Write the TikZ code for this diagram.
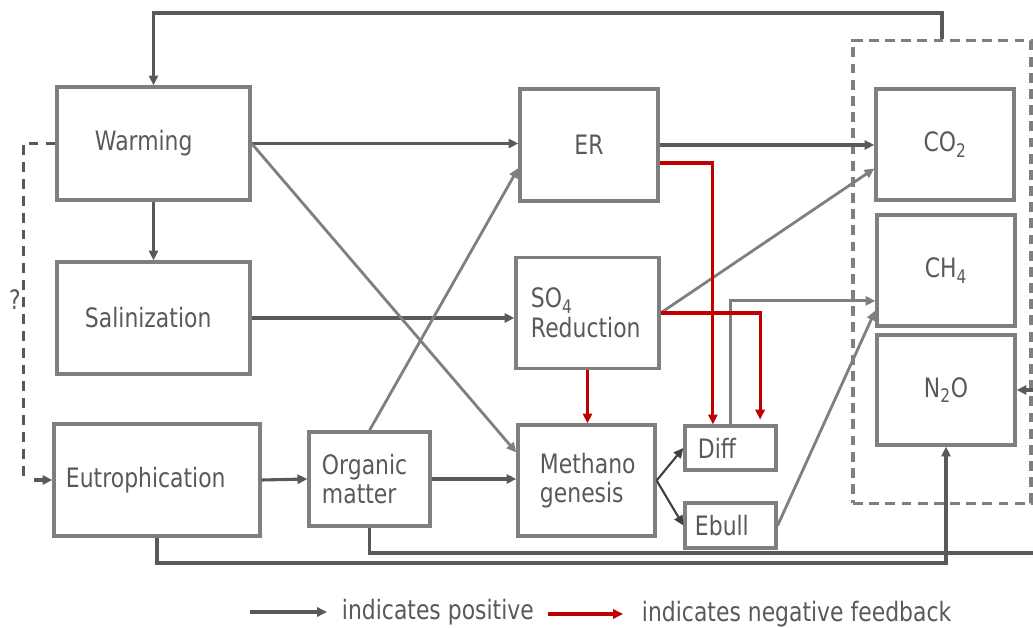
\documentclass[tikz,border=0pt]{standalone}
\usepackage{fontspec}
\setmainfont[FakeStretch=0.82]{DejaVu Sans}
\usepackage{tikz}
\usetikzlibrary{arrows.meta}
\definecolor{boxgray}{HTML}{7F7F7F}
\definecolor{linegray}{HTML}{595959}
\definecolor{txtgray}{HTML}{595959}
\definecolor{fbred}{HTML}{C00000}
\tikzset{>={Triangle[length=7pt,width=6.5pt]}}
\tikzset{
  box/.style={draw=boxgray, line width=2.3pt, align=left, inner ysep=0pt, text=txtgray},
  posarrow/.style={->, draw=linegray, line width=2.2pt},
  litearrow/.style={->, draw=boxgray, line width=2pt},
  negarrow/.style={->, draw=fbred, line width=2.2pt},
  maybeline/.style={draw=linegray, line width=2.2pt, dash pattern=on 7pt off 5pt},
}

\begin{document}
\begin{tikzpicture}[x=0.025cm, y=-0.025cm, font=\fontsize{19}{21}\selectfont]
  \useasboundingbox (0,0) rectangle (1033,628);

  % Drivers
  \node[box, minimum height=2.825cm, text width=2.925cm, inner xsep=0.95cm] (warm) at (153.5,143.5) {Warming};
  \node[box, minimum height=2.8cm, text width=3.425cm, inner xsep=0.7cm] (salin) at (153.5,318) {Salinization};
  \node[box, minimum height=2.8cm, text width=4.55cm, inner xsep=0.3cm] (eutro) at (157,480) {Eutrophication};
  \node[box, minimum height=2.35cm, text width=2.375cm, inner xsep=0.325cm] (organic) at (369.5,479) {Organic\\matter};

  % Processes
  \node[box, minimum width=3.45cm, minimum height=2.8cm] (er) at (589,145) {ER};
  \node[box, minimum height=2.775cm, text width=2.825cm, inner xsep=0.375cm] (so4) at (587.5,313) {SO\textsubscript{4}\\Reduction};
  \node[box, minimum height=2.775cm, text width=2.325cm, inner xsep=0.55cm] (meth) at (586.5,480.5) {Methano\\genesis};
  \node[box, minimum height=1.1cm, text width=1.625cm, inner xsep=0.325cm] (diff) at (730.5,448) {Diff};
  \node[box, minimum height=1.125cm, text width=1.775cm, inner xsep=0.25cm] (ebull) at (730.5,525.5) {Ebull};

  % Gases
  \node[draw=boxgray, line width=2.2pt, dash pattern=on 7pt off 4.5pt, minimum width=4.45cm, minimum height=11.55cm] (gas) at (942,272) {};
  \node[box, minimum width=3.45cm, minimum height=2.775cm] (co2) at (945,144.5) {CO\textsubscript{2}};
  \node[box, minimum width=3.45cm, minimum height=2.775cm] (ch4) at (946,270.5) {CH\textsubscript{4}};
  \node[box, minimum width=3.45cm, minimum height=2.75cm] (n2o) at (946,390) {N\textsubscript{2}O};

  \coordinate (top) at (gas.north |- 0,13);
  \coordinate (rim) at (1050,553);
  \coordinate (base) at (n2o.south |- 0,563);

  % Positive links
  \draw[posarrow] (gas.north) -- (top) -| (warm.north);
  \draw[posarrow] (warm.east) -- (warm.east -| er.west);
  \draw[posarrow] (warm.south) -- (salin.north);
  \draw[posarrow] (salin.east) -- (salin.east -| so4.west);
  \draw[posarrow] (eutro.east) -- (organic.west);
  \draw[posarrow] (organic.east) -- (organic.east -| meth.west);
  \draw[posarrow] (er.east) -- (er.east -| co2.west);
  \draw[posarrow] (organic.south) |- (rim) |- (n2o.east);
  \draw[posarrow] (eutro.south) |- (base) -- (n2o.south);
  \draw[litearrow] (warm.east) -- ([yshift=0.7cm]meth.west);
  \draw[litearrow] (organic.north) -- ([yshift=-0.575cm]er.west);
  \draw[litearrow] (so4.east) -- ([yshift=-0.6cm]co2.west);
  \draw[litearrow] (diff.north) |- ([yshift=-0.76cm]ch4.west);
  \draw[litearrow] (ebull.east) -- ([yshift=-1cm]ch4.west);
  \draw[->, draw=black!75, line width=1.5pt] (meth.east) -- (diff.west);
  \draw[->, draw=black!75, line width=1.5pt] (meth.east) -- (ebull.west);

  % Negative links
  \draw[negarrow] ([yshift=-0.45cm]er.east) -| ([xshift=-0.44cm]diff.north);
  \draw[negarrow] (so4.east) -| ([xshift=0.74cm, yshift=0.12cm]diff.north);
  \draw[negarrow] (so4.south) -- (so4.south |- meth.north);

  % Uncertain link
  \draw[maybeline] (warm.west) -- ++(-32,0) -- ++(0,335);
  \draw[posarrow] ([xshift=-0.45cm]eutro.west) -- (eutro.west);
  \node[text=txtgray] (q) at (15,300) {?};

  % Legend
  \node[anchor=west, text=txtgray] (lpos) at (337,612) {indicates positive};
  \node[anchor=west, text=txtgray] (lneg) at (637,614) {indicates negative feedback};
  \coordinate (lposs) at (250,612);
  \coordinate (lnegs) at (548,614);
  \draw[posarrow] (lposs) -- ([xshift=-0.25cm]lpos.west);
  \draw[negarrow] (lnegs) -- ([xshift=-0.35cm]lneg.west);
\end{tikzpicture}
\end{document}
